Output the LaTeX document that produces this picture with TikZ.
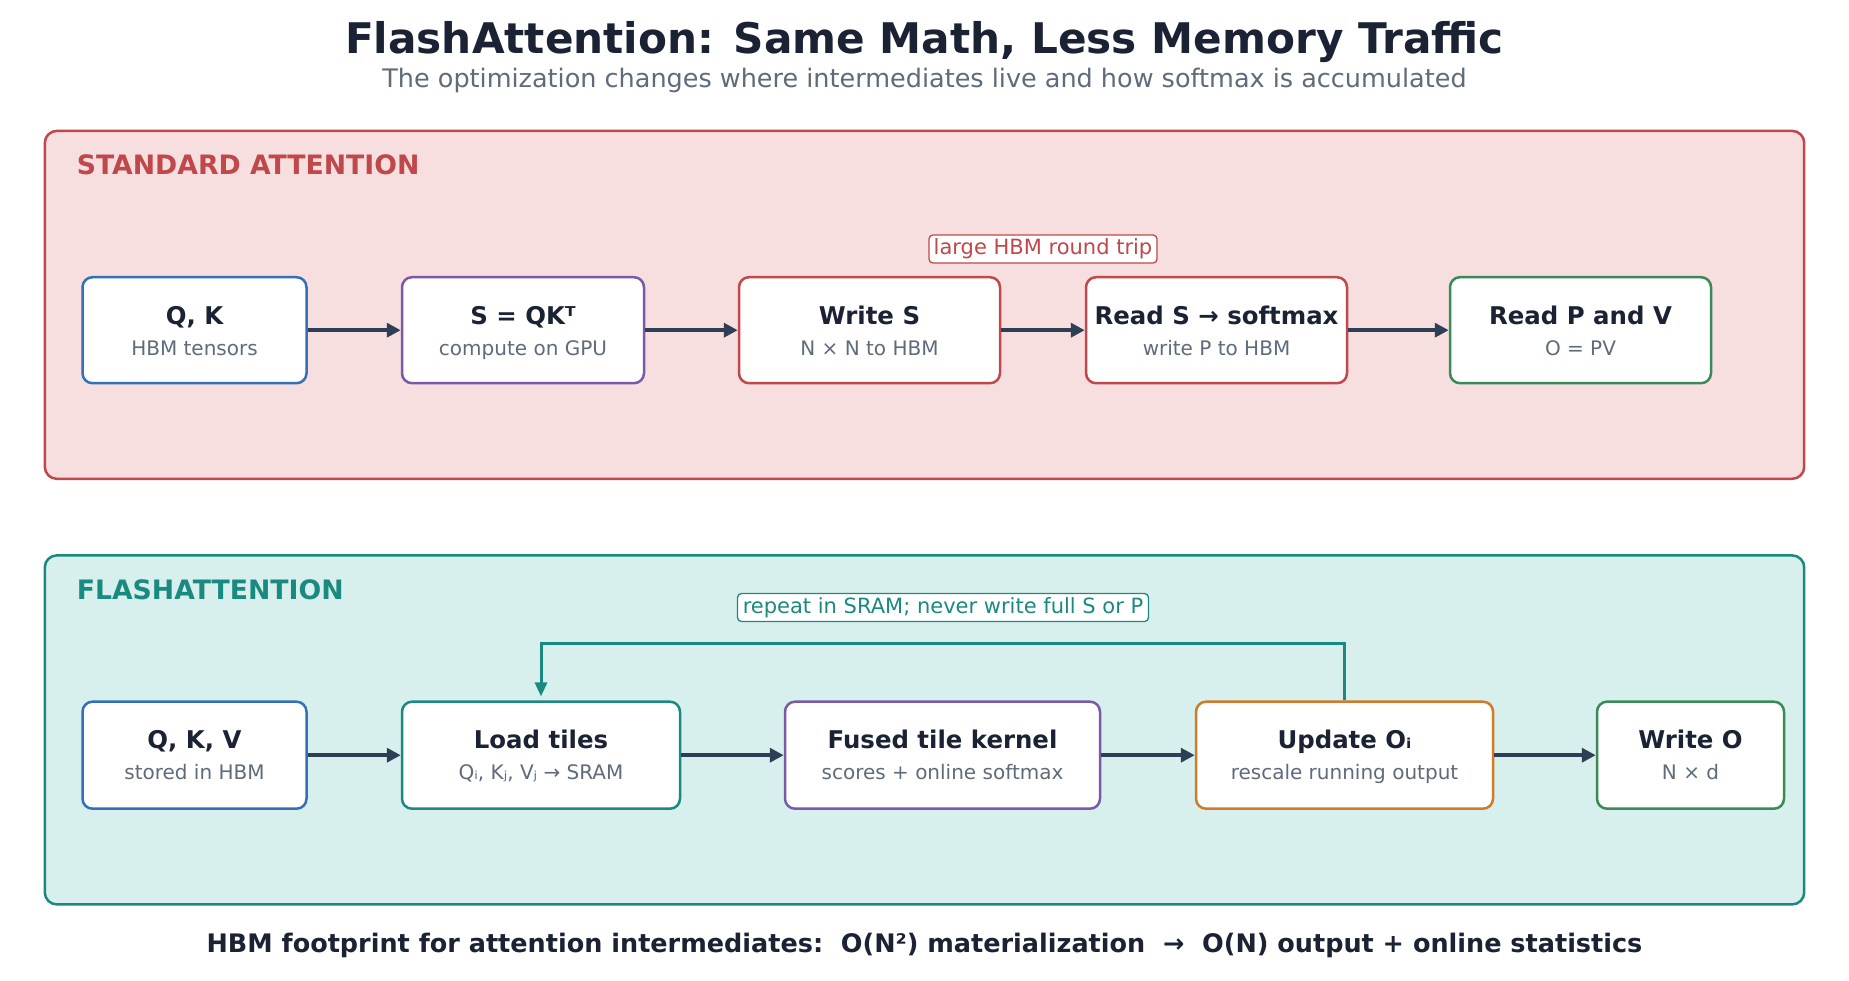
\documentclass[tikz,border=0pt]{standalone}
\usepackage{fontspec}
\setmainfont{DejaVu Sans}
\usetikzlibrary{arrows.meta}
\definecolor{ink}{HTML}{1A2233}
\definecolor{subgray}{HTML}{5F6B7A}
\definecolor{redc}{HTML}{C0474A}
\definecolor{redfill}{HTML}{F7DFE0}
\definecolor{tealc}{HTML}{1A8A80}
\definecolor{tealfill}{HTML}{D8F0ED}
\definecolor{bluec}{HTML}{3370B8}
\definecolor{purplec}{HTML}{7A5AA8}
\definecolor{greenc}{HTML}{3A8A55}
\definecolor{orangec}{HTML}{D07A2A}
\definecolor{arrowc}{HTML}{2D3E55}
\tikzset{
  panel/.style={draw=#1, line width=2.5pt, rounded corners=12pt},
  box/.style={draw=#1, line width=2.5pt, rounded corners=10pt, fill=white, inner sep=0pt},
  ttl/.style={anchor=base, inner sep=0pt, text=ink, font=\fontsize{24.4}{28}\selectfont\bfseries},
  sub/.style={anchor=base, inner sep=0pt, text=subgray, font=\fontsize{20}{24}\selectfont},
  plabel/.style={anchor=base west, inner sep=0pt, text=#1, font=\fontsize{26.7}{30}\selectfont\bfseries},
  note/.style={draw=#1, text=#1, fill=white, line width=1.3pt, rounded corners=4pt, inner sep=0pt, font=\fontsize{21}{24}\selectfont, text height=16pt, text depth=5pt},
  flow/.style={draw=arrowc, line width=3.5pt, -{Triangle[length=14pt,width=14pt]}},
  loopline/.style={draw=tealc, line width=3pt, -{Triangle[length=14pt,width=12pt]}}
}
\begin{document}
\begin{tikzpicture}[x=1pt,y=-1pt]
\useasboundingbox[fill=white] (0,0) rectangle (1849,981);
% title
\node[anchor=base, inner sep=0pt, text=ink, font=\fontsize{42.2}{48}\selectfont\bfseries] (title) at (924.5,54) {FlashAttention: Same Math, Less Memory Traffic};
\node[anchor=base, inner sep=0pt, text=subgray, font=\fontsize{25.5}{30}\selectfont] (subtitle) at (924.5,87.5) {The optimization changes where intermediates live and how softmax is accumulated};
% panels
\path[panel=redc, fill=redfill] (44.8,130.9) rectangle (1804.2,478.8);
\path[panel=tealc, fill=tealfill] (44.8,555.4) rectangle (1804.2,904.4);
\node[plabel=redc] (lblstd) at (76.6,174.5) {STANDARD ATTENTION};
\node[plabel=tealc] (lblfa) at (76.6,599) {FLASHATTENTION};
% standard row
\node[box=bluec, minimum width=224pt, minimum height=106pt] (qk) at (194.5,330.2) {};
\node[box=purplec, minimum width=242pt, minimum height=106pt] (s) at (523,330.2) {};
\node[box=redc, minimum width=261pt, minimum height=106pt] (ws) at (869.5,330.2) {};
\node[box=redc, minimum width=261pt, minimum height=106pt] (rs) at (1216.5,330.2) {};
\node[box=greenc, minimum width=261pt, minimum height=106pt] (rp) at (1580.5,330.2) {};
\foreach \n/\t/\u in {qk/{Q, K}/{HBM tensors}, s/{S = QKᵀ}/{compute on GPU}, ws/{Write S}/{N × N to HBM}, rs/{Read S → softmax}/{write P to HBM}, rp/{Read P and V}/{O = PV}}{
  \node[ttl] (\n-t) at ([yshift=6pt]\n.center) {\t};
  \node[sub] (\n-s) at ([yshift=-25pt]\n.center) {\u};
}
\draw[flow] (qk) -- (s);
\draw[flow] (s) -- (ws);
\draw[flow] (ws) -- (rs);
\draw[flow] (rs) -- (rp);
\node[note=redc, minimum width=228pt, minimum height=28pt] (trip) at (1043,249) {large HBM round trip};
% flash row
\node[box=bluec, minimum width=224pt, minimum height=107pt] (qkv) at (194.5,755.2) {};
\node[box=tealc, minimum width=278pt, minimum height=107pt] (load) at (541,755.2) {};
\node[box=purplec, minimum width=315pt, minimum height=107pt] (fused) at (942.5,755.2) {};
\node[box=orangec, minimum width=297pt, minimum height=107pt] (upd) at (1344.5,755.2) {};
\node[box=greenc, minimum width=187pt, minimum height=107pt] (wo) at (1690.5,755.2) {};
\foreach \n/\t/\u in {qkv/{Q, K, V}/{stored in HBM}, load/{Load tiles}/{Qᵢ, Kⱼ, Vⱼ → SRAM}, fused/{Fused tile kernel}/{scores + online softmax}, upd/{Update Oᵢ}/{rescale running output}, wo/{Write O}/{N × d}}{
  \node[ttl] (\n-t) at ([yshift=6.5pt]\n.center) {\t};
  \node[sub] (\n-s) at ([yshift=-24.5pt]\n.center) {\u};
}
\draw[flow] (qkv) -- (load);
\draw[flow] (load) -- (fused);
\draw[flow] (fused) -- (upd);
\draw[flow] (upd) -- (wo);
\coordinate (lp) at (1344.5,643.8);
\draw[loopline, shorten >=4pt] (upd.north) -- (upd.north |- lp) -| (load.north);
\node[note=tealc, minimum width=411pt, minimum height=28pt] (rep) at (943,607.5) {repeat in SRAM; never write full S or P};
% bottom
\node[anchor=base, inner sep=0pt, text=ink, font=\fontsize{25.5}{30}\selectfont\bfseries] (foot) at (924.5,952) {HBM footprint for attention intermediates:\ \ O(N²) materialization\ \ →\ \ O(N) output + online statistics};
\end{tikzpicture}
\end{document}
